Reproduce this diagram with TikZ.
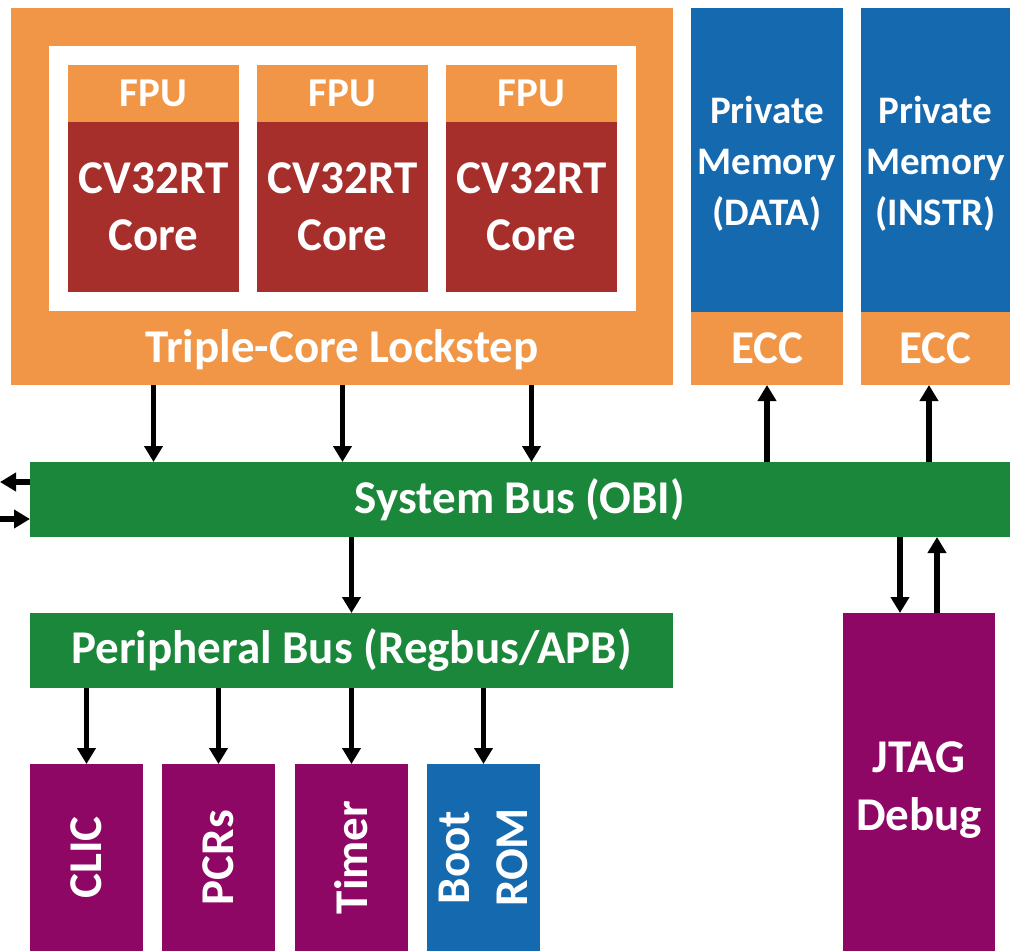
\documentclass[tikz,border=0pt]{standalone}
\usepackage{fontspec}
\setmainfont{Carlito}
\usepackage{tikz}
\usetikzlibrary{arrows.meta}
\definecolor{lsorange}{RGB}{241,150,70}
\definecolor{corered}{RGB}{166,47,44}
\definecolor{memblue}{RGB}{21,105,175}
\definecolor{busgreen}{RGB}{27,135,58}
\definecolor{perpurple}{RGB}{143,7,100}
\tikzstyle{every node}=[inner sep=0pt,outer sep=0pt,text=white,align=center]
\tikzstyle{blk}=[rectangle,draw=none]
\tikzstyle{link}=[line width=5.5pt,-{Triangle[width=18pt,length=16pt]}]
\newcommand{\bigtxt}{\bfseries\fontsize{47}{57}\selectfont}
\newcommand{\midtxt}{\bfseries\fontsize{39}{51}\selectfont}

\begin{document}
\begin{tikzpicture}[x=1pt,y=-1pt]
  \useasboundingbox (0,0) rectangle (1010,951);
  % lockstep block
  \node[blk,fill=lsorange,minimum width=662pt,minimum height=377pt] (lockstep) at (342,196.5) {};
  \node[blk,fill=white,minimum width=587pt,minimum height=265pt] (inner) at (342.5,178.5) {};
  \node[font=\bigtxt] (lstitle) at (342,350) {Triple-Core Lockstep};
  \foreach \i/\x in {1/153.5,2/342.5,3/531.5}{
    \node[blk,fill=lsorange,minimum width=171pt,minimum height=57pt,font=\bfseries\fontsize{41}{50}\selectfont] (fpu\i) at (\x,93.5) {FPU};
    \node[blk,fill=corered,minimum width=171pt,minimum height=170pt,font=\bigtxt] (core\i) at (\x,207) {CV32RT\\Core};
  }
  % private memories
  \node[blk,fill=memblue,minimum width=152pt,minimum height=304pt] (memd) at (767,160) {};
  \node[font=\midtxt] (memdtxt) at (767,164) {Private\\Memory\\(DATA)};
  \node[blk,fill=lsorange,minimum width=152pt,minimum height=73pt,font=\bigtxt] (eccd) at (767,348.5) {ECC};
  \node[blk,fill=memblue,minimum width=149pt,minimum height=304pt] (memi) at (935.5,160) {};
  \node[font=\midtxt] (memitxt) at (935.5,164) {Private\\Memory\\(INSTR)};
  \node[blk,fill=lsorange,minimum width=149pt,minimum height=73pt,font=\bigtxt] (ecci) at (935.5,348.5) {ECC};
  % buses
  \node[blk,fill=busgreen,minimum width=980pt,minimum height=75pt,font=\bigtxt] (sysbus) at (520,499.5) {System Bus (OBI)};
  \node[blk,fill=busgreen,minimum width=643pt,minimum height=75pt,font=\bigtxt] (pbus) at (351.5,650.5) {Peripheral Bus (Regbus/APB)};
  % peripherals
  \foreach \n/\x/\c/\t in {clic/86.5/perpurple/CLIC,pcrs/218.5/perpurple/PCRs,timer/351.5/perpurple/Timer,bootrom/483.5/memblue/{Boot\\ROM}}{
    \node[blk,fill=\c,minimum width=113pt,minimum height=187pt] (\n) at (\x,857.5) {};
    \node[rotate=90,font=\bfseries\fontsize{47}{58}\selectfont] (\n txt) at (\n) {\t};
    \draw[link] (\n |- pbus.south) -- (\n.north);
  }
  \node[blk,fill=perpurple,minimum width=152pt,minimum height=338pt] (jtag) at (919,782) {};
  \node[font=\bfseries\fontsize{47}{58}\selectfont] (jtagtxt) at (919,790) {JTAG\\Debug};
  % connections
  \foreach \i in {1,2,3}
    \draw[link] (core\i |- lockstep.south) -- (core\i |- sysbus.north);
  \draw[link] (eccd |- sysbus.north) -- (eccd.south);
  \draw[link] ([xshift=-6.5pt]ecci.south |- sysbus.north) -- ([xshift=-6.5pt]ecci.south);
  \draw[link] (sysbus.south -| pbus) -- (pbus.north);
  \draw[link] ([xshift=-19pt]jtag.north |- sysbus.south) -- ([xshift=-19pt]jtag.north);
  \draw[link] ([xshift=18pt]jtag.north) -- ([xshift=18pt]jtag.north |- sysbus.south);
  \coordinate (extout) at (0,482);
  \coordinate (extin) at (0,519);
  \draw[link] (sysbus.west |- extout) -- (extout);
  \draw[link] (extin) -- (sysbus.west |- extin);
\end{tikzpicture}
\end{document}
